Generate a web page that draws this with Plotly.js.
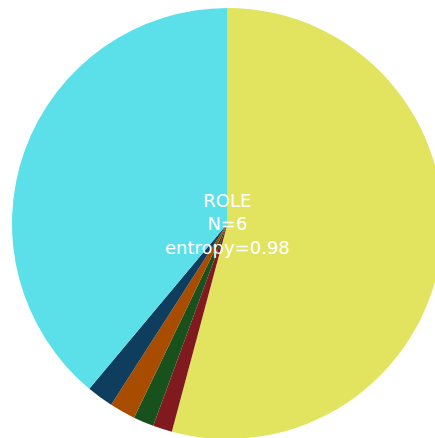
<!DOCTYPE html>
<html>
<head>
<meta charset="utf-8">
<script src="https://cdn.plot.ly/plotly-3.0.1.min.js"></script>
<style>
html, body { margin: 0; padding: 0; overflow: hidden; background: #fff; }
#chart { width: 455px; height: 447px; }
</style>
</head>
<body>
<div id="chart"></div>
<script>
const labels = ["A", "B", "C", "D", "E", "F"];
const values = [54.16, 1.44, 1.54, 1.94, 2.0, 38.92];
const colors = ["#e2e35f", "#801a1e", "#18511b", "#a84c00", "#0e3d5e", "#5be0ea"];
const centerText = ["ROLE", "N=6", "entropy=0.98"];

Plotly.newPlot("chart", [{
  type: "pie",
  labels: labels,
  values: values,
  sort: false,
  direction: "clockwise",
  rotation: 0,
  textinfo: "none",
  hoverinfo: "label+percent",
  marker: { colors: colors, line: { width: 0 } }
}], {
  width: 455,
  height: 447,
  margin: { l: 12, r: 12, t: 8, b: 8 },
  showlegend: false,
  paper_bgcolor: "#fff",
  annotations: [{
    text: centerText.join("<br>"),
    x: 0.5, y: 0.5, xref: "paper", yref: "paper",
    xanchor: "center", yanchor: "middle",
    showarrow: false,
    font: { family: "DejaVu Sans, Verdana, sans-serif", size: 18, color: "#ffffff" }
  }]
}, { displayModeBar: false, staticPlot: true });
</script>
</body>
</html>
